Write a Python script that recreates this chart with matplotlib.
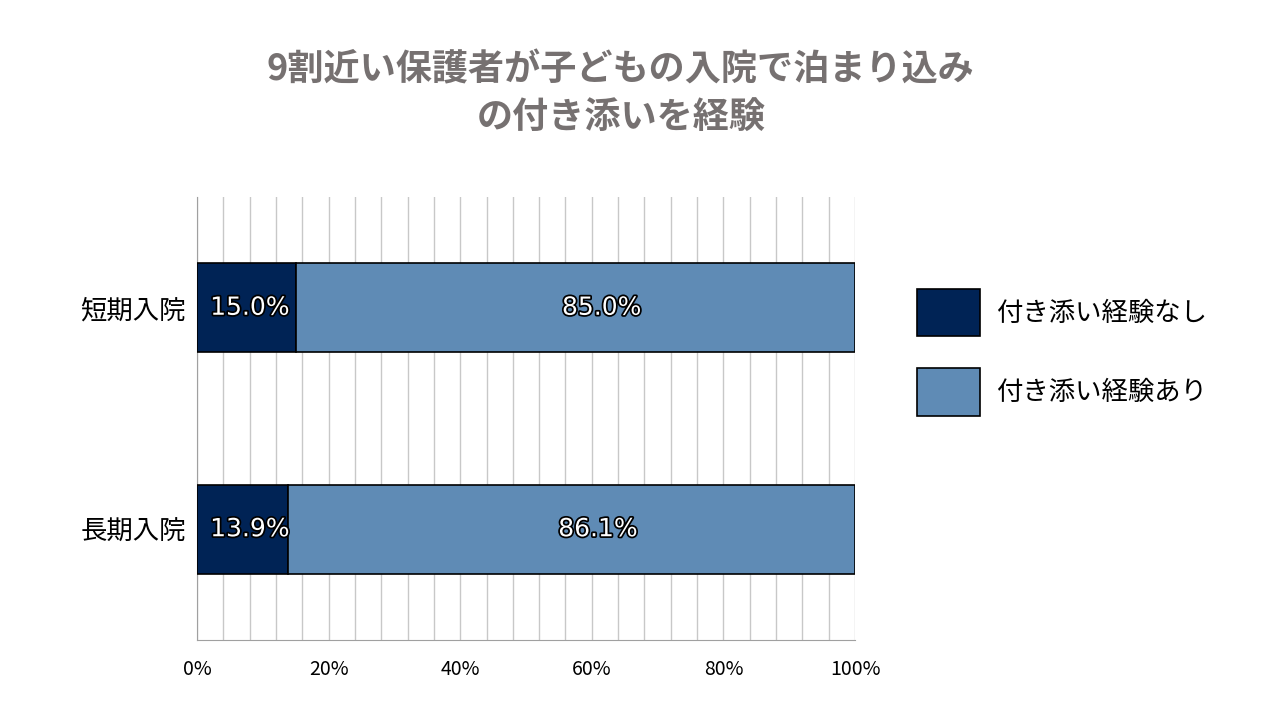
import matplotlib
matplotlib.use("Agg")
import matplotlib.pyplot as plt
import matplotlib.patheffects as pe
from matplotlib.patches import Patch

plt.rcParams['font.family'] = ['Noto Sans CJK JP', 'DejaVu Sans']

categories = ['短期入院', '長期入院']
no_exp = [15.0, 13.9]
yes_exp = [85.0, 86.1]
series_names = ['付き添い経験なし', '付き添い経験あり']
colors = ['#002355', '#5f8bb5']

fig = plt.figure(figsize=(12.8, 7.2), dpi=100)
ax = fig.add_axes([197/1280, 80/720, 658/1280, 443/720])

y = [0, 1]
ax.barh(y, no_exp, height=0.4, color=colors[0], edgecolor='black', linewidth=1.2, zorder=3)
ax.barh(y, yes_exp, left=no_exp, height=0.4, color=colors[1], edgecolor='black', linewidth=1.2, zorder=3)

fx = [pe.withStroke(linewidth=2.5, foreground='black')]
for i in y:
    ax.text(2, i, f'{no_exp[i]:.1f}%', ha='left', va='center', color='white',
            fontsize=18, family='DejaVu Sans', path_effects=fx, zorder=5)
    ax.text(no_exp[i] + yes_exp[i] / 2 + 4, i, f'{yes_exp[i]:.1f}%', ha='center', va='center',
            color='white', fontsize=18, family='DejaVu Sans', path_effects=fx, zorder=5)

ax.set_xlim(0, 100)
ax.set_ylim(1.5, -0.5)
ax.set_xticks(range(0, 101, 4), minor=True)
ax.set_xticks(range(0, 101, 20))
ax.set_xticklabels([f'{v}%' for v in range(0, 101, 20)], fontsize=14)
ax.set_yticks(y)
ax.set_yticklabels(categories, fontsize=19)
ax.grid(axis='x', which='both', color='#c8c8c8', linewidth=1, zorder=0)
ax.tick_params(length=0, which='both', pad=8)
ax.tick_params(axis='x', pad=14)
for s in ['top', 'right']:
    ax.spines[s].set_visible(False)
ax.spines['left'].set_color('#a0a0a0')
ax.spines['bottom'].set_color('#a0a0a0')

handles = [Patch(facecolor=c, edgecolor='black', linewidth=1.2) for c in colors]
fig.legend(handles, series_names, loc='upper left', bbox_to_anchor=(893/1280, 1 - 265/720),
           frameon=False, fontsize=19, handlelength=2.4, handleheight=2.4,
           labelspacing=1.2, handletextpad=0.6)

fig.text(0.485, 0.87, '9割近い保護者が子どもの入院で泊まり込み\nの付き添いを経験', ha='center', va='center',
         fontsize=26, fontweight='bold', color='#767171', linespacing=1.35)

fig.savefig('out.png', dpi=100)
